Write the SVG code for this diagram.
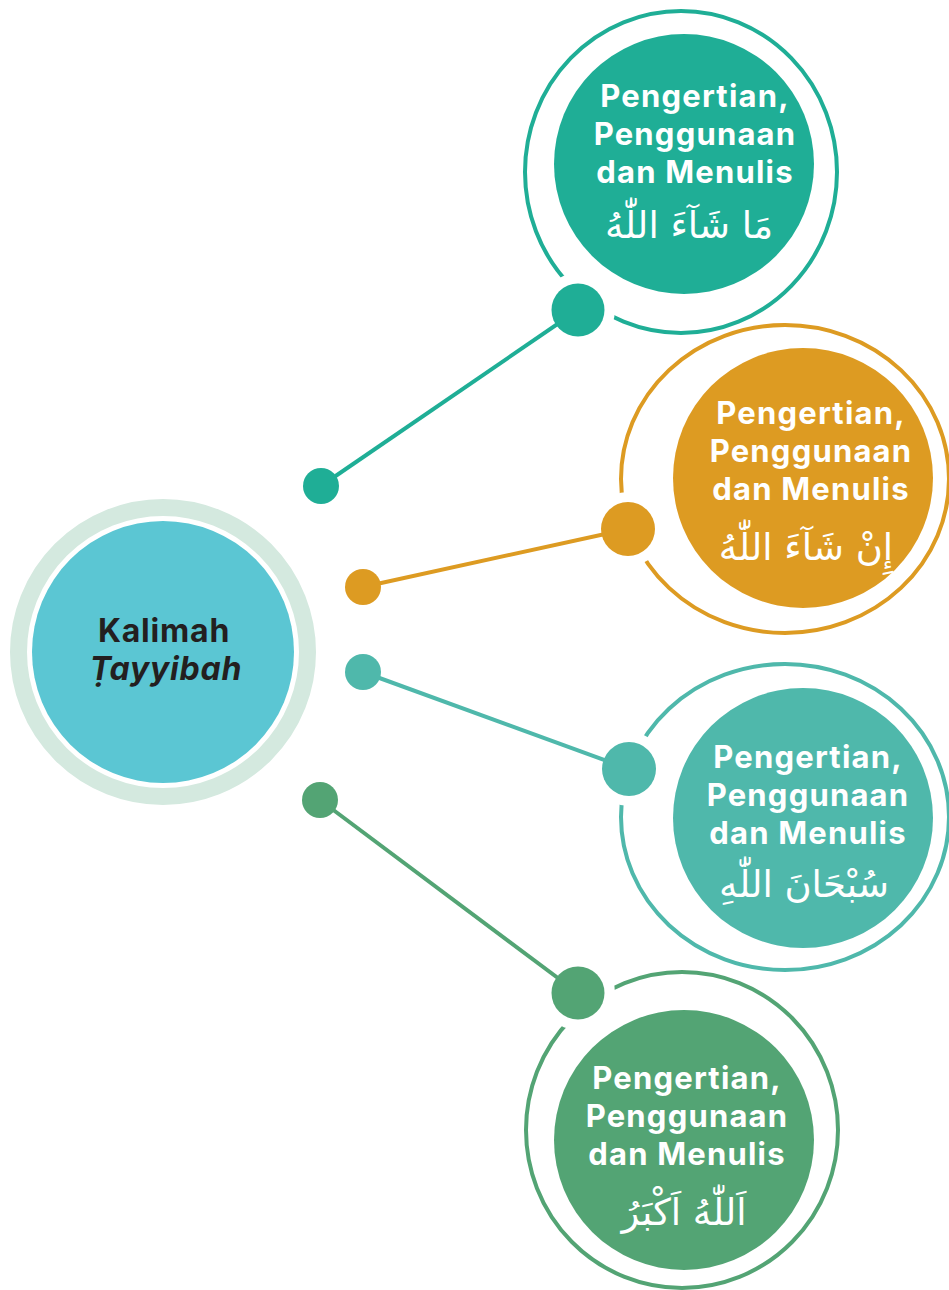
<svg xmlns="http://www.w3.org/2000/svg" width="949" height="1290" viewBox="0 0 949 1290">
<style>
.ring{fill:none;stroke-width:4}
.lbl{font-family:Inter,"Open Sans","Liberation Sans",sans-serif;font-weight:700;font-size:31px;letter-spacing:1.2px;fill:#fff;text-anchor:middle}
.ar{font-family:"DejaVu Sans",sans-serif;font-size:37px;fill:#fff;text-anchor:middle}
.ctr{font-family:Inter,"Open Sans","Liberation Sans",sans-serif;font-weight:700;font-size:32px;letter-spacing:0.8px;fill:#231f20;text-anchor:middle}
.con{stroke-width:4;fill:none}
</style>
<defs>
<mask id="m1"><rect width="949" height="1290" fill="#fff"/><circle cx="578" cy="310" r="37" fill="#000"/></mask>
<mask id="m2"><rect width="949" height="1290" fill="#fff"/><circle cx="628" cy="529" r="37" fill="#000"/></mask>
<mask id="m3"><rect width="949" height="1290" fill="#fff"/><circle cx="629" cy="769" r="37" fill="#000"/></mask>
<mask id="m4"><rect width="949" height="1290" fill="#fff"/><circle cx="578" cy="993" r="37" fill="#000"/></mask>
</defs>

<g id="center">
<circle cx="163" cy="652" r="144.5" fill="none" stroke="#d4e9df" stroke-width="17"/>
<circle cx="163" cy="652" r="131" fill="#5bc6d3"/>
<text class="ctr" x="164" y="642">Kalimah</text>
<text class="ctr" x="166" y="680" font-style="italic">Ṭayyibah</text>
</g>

<g id="node1">
<ellipse class="ring" cx="681" cy="172" rx="156" ry="161" stroke="#1fae96" mask="url(#m1)"/>
<circle cx="684" cy="164" r="130" fill="#1fae96"/>
<text class="lbl" x="695" y="107">Pengertian,</text>
<text class="lbl" x="695" y="145">Penggunaan</text>
<text class="lbl" x="695" y="183">dan Menulis</text>
<text class="ar" x="689" y="238">مَا شَآءَ اللّٰهُ</text>
</g>

<g id="node2">
<ellipse class="ring" cx="785" cy="479" rx="164" ry="154" stroke="#dd9b22" mask="url(#m2)"/>
<circle cx="803" cy="478" r="130" fill="#dd9b22"/>
<text class="lbl" x="811" y="424">Pengertian,</text>
<text class="lbl" x="811" y="462">Penggunaan</text>
<text class="lbl" x="811" y="500">dan Menulis</text>
<text class="ar" x="806" y="560">إِنْ شَآءَ اللّٰهُ</text>
</g>

<g id="node3">
<ellipse class="ring" cx="785" cy="817" rx="164" ry="153" stroke="#4fb8ab" mask="url(#m3)"/>
<circle cx="803" cy="818" r="130" fill="#4fb8ab"/>
<text class="lbl" x="808" y="768">Pengertian,</text>
<text class="lbl" x="808" y="806">Penggunaan</text>
<text class="lbl" x="808" y="844">dan Menulis</text>
<text class="ar" x="804" y="897">سُبْحَانَ اللّٰهِ</text>
</g>

<g id="node4">
<ellipse class="ring" cx="682" cy="1130" rx="156" ry="158" stroke="#53a474" mask="url(#m4)"/>
<circle cx="684" cy="1140" r="130" fill="#53a474"/>
<text class="lbl" x="687" y="1089">Pengertian,</text>
<text class="lbl" x="687" y="1127">Penggunaan</text>
<text class="lbl" x="687" y="1165">dan Menulis</text>
<text class="ar" x="684" y="1225">اَللّٰهُ اَكْبَرُ</text>
</g>

<g id="connectors">
<line class="con" x1="321" y1="486" x2="578" y2="310" stroke="#1fae96"/>
<line class="con" x1="363" y1="587" x2="628" y2="529" stroke="#dd9b22"/>
<line class="con" x1="363" y1="672" x2="629" y2="769" stroke="#4fb8ab"/>
<line class="con" x1="320" y1="800" x2="578" y2="993" stroke="#53a474"/>
<circle cx="321" cy="486" r="18" fill="#1fae96"/>
<circle cx="578" cy="310" r="26.5" fill="#1fae96"/>
<circle cx="363" cy="587" r="18" fill="#dd9b22"/>
<circle cx="628" cy="529" r="27" fill="#dd9b22"/>
<circle cx="363" cy="672" r="18" fill="#4fb8ab"/>
<circle cx="629" cy="769" r="27" fill="#4fb8ab"/>
<circle cx="320" cy="800" r="18" fill="#53a474"/>
<circle cx="578" cy="993" r="26.5" fill="#53a474"/>
</g>
</svg>
